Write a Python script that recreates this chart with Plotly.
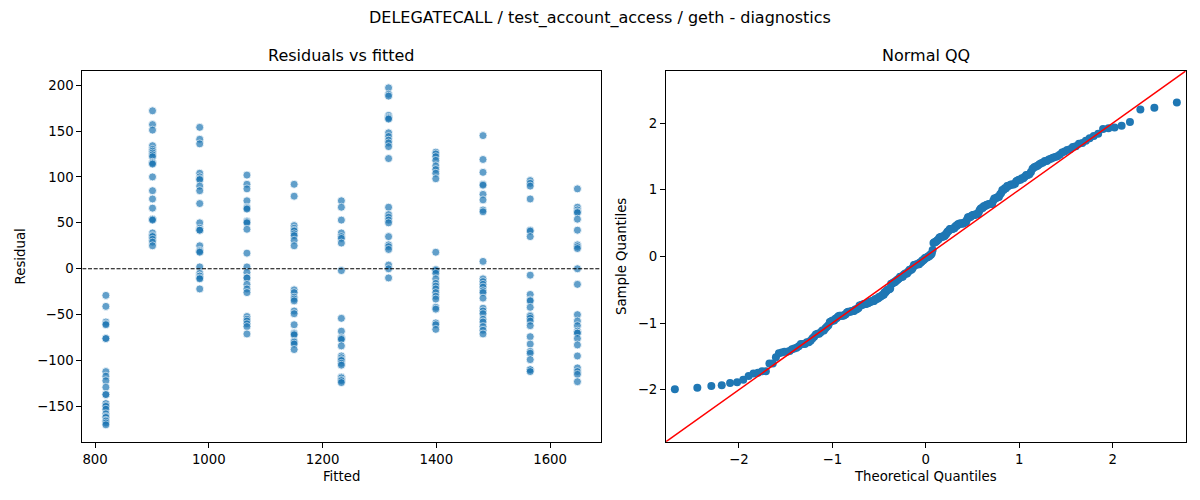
import numpy as np
import plotly.graph_objects as go
from statistics import NormalDist

# ---------------- data ----------------
fitted_levels = [819, 901, 984, 1067, 1150, 1233, 1316, 1399, 1482, 1565, 1648]

resid_819 = [-29, -41, -58, -60, -61, -76, -76, -112, -117, -122, -129, -137, -137,
             -147, -147, -149, -150, -153, -158, -161, -162, -165, -166, -168, -170]
resid_901 = [172, 157, 151, 134, 130, 128, 126, 124, 122, 116, 115, 114, 100, 85, 76,
             66, 54, 54, 53, 39, 36, 35, 32, 29, 25]
resid_984 = [154, 141, 136, 104, 100, 98, 97, 90, 85, 71, 50, 44, 42, 42, 25, 20, 19,
             18, 2, -5, -8, -8, -10, -11, -22]
resid_1067 = [102, 92, 87, 74, 67, 66, 65, 52, 51, 50, 43, 17, 2, -4, -10, -10, -17,
              -22, -26, -52, -55, -57, -60, -63, -71]
resid_1150 = [92, 79, 47, 44, 42, 41, 38, 36, 31, 25, -23, -26, -31, -33, -35, -46,
              -49, -61, -70, -71, -72, -79, -80, -82, -88]
resid_1233 = [74, 67, 53, 39, 35, 33, 28, -2, -54, -68, -75, -76, -77, -84, -95, -97,
              -99, -100, -103, -105, -118, -119, -121, -122, -124]
resid_1316 = [197, 190, 188, 167, 165, 164, 163, 148, 144, 140, 137, 133, 120, 67, 59,
              56, 53, 50, 35, 26, 24, 21, 4, 0, -10]
resid_1399 = [127, 125, 122, 118, 112, 108, 104, 98, 18, -1, -1, -2, -5, -11, -16, -19,
              -22, -26, -30, -33, -42, -44, -59, -61, -66]
resid_1482 = [145, 119, 105, 92, 91, 81, 75, 64, 62, 8, -11, -14, -17, -20, -24, -26,
              -32, -43, -46, -49, -55, -58, -63, -67, -71]
resid_1565 = [96, 93, 90, 76, 42, 41, 35, -7, -28, -34, -35, -42, -51, -52, -54, -57,
              -62, -74, -82, -90, -92, -99, -110, -110, -112]
resid_1648 = [87, 67, 64, 62, 61, 54, 42, 26, 24, 22, 0, -17, -50, -57, -62, -68, -70,
              -70, -76, -83, -95, -108, -112, -115, -123]

resid_groups = [resid_819, resid_901, resid_984, resid_1067, resid_1150, resid_1233,
                resid_1316, resid_1399, resid_1482, resid_1565, resid_1648]

suptitle = "DELEGATECALL / test_account_access / geth - diagnostics"
left_title = "Residuals vs fitted"
right_title = "Normal QQ"

# ---------------- derived series ----------------
fitted = []
resid = []
for lvl, grp in zip(fitted_levels, resid_groups):
    fitted += [lvl] * len(grp)
    resid += grp
fitted = np.array(fitted, dtype=float)
resid = np.array(resid, dtype=float)

# Normal QQ: a=0 plotting positions; residuals (zero-mean OLS) scaled by their RMS
n = len(resid)
nd = NormalDist()
theo = np.array([nd.inv_cdf(i / (n + 1)) for i in range(1, n + 1)])
sample = np.sort(resid / np.sqrt(np.mean(resid ** 2)))

def padded(lo, hi, frac=0.05):
    d = hi - lo
    return [lo - frac * d, hi + frac * d]

x1_range = padded(fitted.min(), fitted.max())
y1_range = padded(resid.min(), resid.max())
qq_lim = 2.78
qq_range = [-qq_lim, qq_lim]

# ---------------- figure ----------------
FONT = "DejaVu Sans"
blue = "#1f77b4"

fig = go.Figure()
fig.add_trace(go.Scatter(
    x=fitted, y=resid, mode="markers", xaxis="x", yaxis="y",
    marker=dict(size=8, color=blue, opacity=0.7, line=dict(color="white", width=0.8)),
    showlegend=False, hoverinfo="x+y"))
fig.add_trace(go.Scatter(
    x=x1_range, y=[0, 0], mode="lines", xaxis="x", yaxis="y",
    line=dict(color="black", width=1.1, dash="4px,1.7px"), showlegend=False, hoverinfo="skip"))
fig.add_trace(go.Scatter(
    x=theo, y=sample, mode="markers", xaxis="x2", yaxis="y2",
    marker=dict(size=8, color=blue, line=dict(width=0)),
    showlegend=False, hoverinfo="x+y"))
fig.add_trace(go.Scatter(
    x=qq_range, y=qq_range, mode="lines", xaxis="x2", yaxis="y2",
    line=dict(color="red", width=1.5), showlegend=False, hoverinfo="skip"))

axis_common = dict(
    showline=True, linecolor="black", linewidth=1, mirror=True,
    ticks="outside", ticklen=5, tickwidth=1, tickcolor="black",
    showgrid=False, zeroline=False,
    tickfont=dict(family=FONT, size=13.3, color="black"),
)
title_font = dict(family=FONT, size=13.3, color="black")

ydom = [(500 - 441.7) / 500, (500 - 71) / 500]
fig.update_layout(
    width=1200, height=500,
    margin=dict(l=0, r=0, t=0, b=0),
    paper_bgcolor="white", plot_bgcolor="white",
    font=dict(family=FONT, color="black"),
    xaxis=dict(axis_common, domain=[82.3 / 1200, 601 / 1200], range=x1_range,
               tick0=800, dtick=200, anchor="y",
               title=dict(text="Fitted", font=title_font, standoff=6)),
    yaxis=dict(axis_common, domain=ydom, range=y1_range, tick0=0, dtick=50, anchor="x",
               title=dict(text="Residual", font=title_font, standoff=8)),
    xaxis2=dict(axis_common, domain=[666 / 1200, 1185.7 / 1200], range=qq_range,
                tick0=0, dtick=1, anchor="y2",
                title=dict(text="Theoretical Quantiles", font=title_font, standoff=6)),
    yaxis2=dict(axis_common, domain=ydom, range=qq_range, tick0=0, dtick=1, anchor="x2",
                title=dict(text="Sample Quantiles", font=title_font, standoff=8)),
    annotations=[
        dict(text=suptitle, x=0.5, y=1 - 18 / 500, xref="paper", yref="paper",
             showarrow=False, xanchor="center", yanchor="middle",
             font=dict(family=FONT, size=16, color="black")),
        dict(text=left_title, x=(82.3 + 601) / 2 / 1200, y=1 - 56 / 500,
             xref="paper", yref="paper", showarrow=False, xanchor="center",
             yanchor="middle", font=dict(family=FONT, size=16, color="black")),
        dict(text=right_title, x=(666 + 1185.7) / 2 / 1200, y=1 - 56 / 500,
             xref="paper", yref="paper", showarrow=False, xanchor="center",
             yanchor="middle", font=dict(family=FONT, size=16, color="black")),
    ],
)

fig.write_html("out.html",
               config={"displayModeBar": False},
               post_script="document.body.style.margin='0';document.body.style.overflow='hidden';")
